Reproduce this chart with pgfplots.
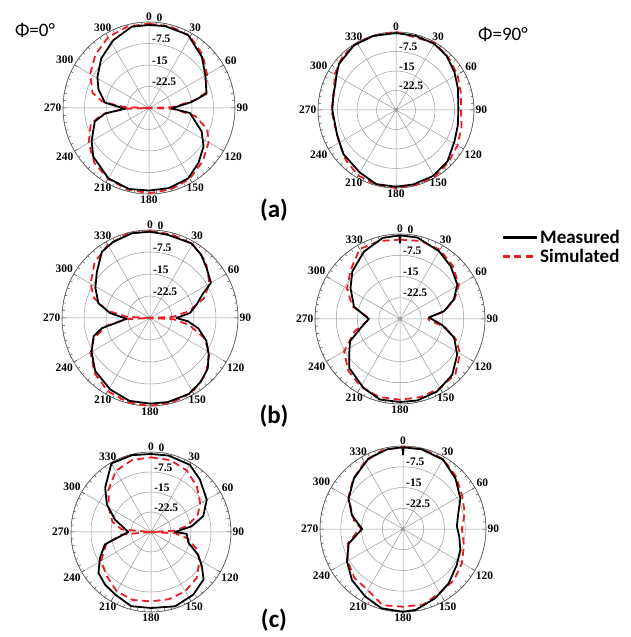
\documentclass[border=0pt]{standalone}
\usepackage{pgfplots}
\pgfplotsset{compat=1.18}
\usepackage{pgfplotstable}
\usepgfplotslibrary{polar}
\usepackage{fontspec}
\setmainfont{Liberation Serif}
\newfontfamily\calfont{Carlito}
\definecolor{simred}{RGB}{232,30,36}

% ---------- data: angle t (deg, clockwise from top), level d (dB) ----------
\pgfplotstableread{
t d
0 -1.05
11 -0.9
28 -1.05
46 -4.35
60 -7.3
76 -9.3
82 -15
91 -22.1
97 -15.6
114 -9.9
125 -6.75
138 -4.2
151 -1.9
166 -1.2
180 -1.2
194 -0.9
210 -1.65
229 -4.2
240 -6.9
256 -10.5
263 -14.6
268 -21.6
277 -14.5
290 -11.25
301 -9
316 -6
332 -3.3
348 -1
360 -1.05
}\aLm
\pgfplotstableread{
t d
0 -0.6
15 -0.6
30 -1.2
45 -3.6
60 -6.6
75 -9.6
80 -13.5
85 -19.5
88 -22
90 -30
92 -22
95 -19.5
100 -13.5
110 -8.4
120 -6
135 -3.6
150 -1.5
165 -0.6
180 -0.3
195 -0.6
210 -1.5
225 -3
240 -5.7
255 -9
262 -13.5
266 -19.5
268 -22
270 -30
272 -22
274 -19.5
278 -13.5
285 -9.6
300 -6.3
315 -3.6
330 -1.5
345 -0.6
360 -0.6
}\aLs
\pgfplotstableread{
t d
0 -0.4
15 -0.5
30 -0.6
43 -1.5
57 -3.2
71 -4.8
90 -6
104 -5.5
118 -4.5
135 -2
151 -0.9
167 -0.6
180 -0.5
195 -0.5
210 -2.2
230 -3.6
247 -5.4
270 -5.5
285 -5.1
292 -4.8
300 -3.5
309 -1.8
327 -0.3
343 -0.2
360 -0.4
}\aRm
\pgfplotstableread{
t d
0 0
30 -0.2
45 -1.5
60 -2.7
75 -4.2
90 -5
105 -3.9
120 -2.7
135 -1.5
150 -0.3
165 -0.2
180 0
195 -0.3
210 -0.9
225 -2.7
240 -4.8
255 -5.7
270 -5.1
285 -5.4
300 -2.7
315 -0.9
330 -0.2
345 -0.2
360 0
}\aRs
\pgfplotstableread{
t d
0 -0.6
12 -1
29 -0.9
39 -2.25
49 -4.35
60 -6
65 -10
74 -13.5
83 -16.3
90 -21
95 -17
102 -13.2
112 -9.3
122 -6.4
131 -3.9
141 -2.25
153 -0.9
168 -0.7
180 -0.8
194 -0.9
209 -2.1
226 -4
240 -7
252 -9.8
258 -13.2
268 -22
277 -16.3
286 -11.7
299 -8.7
311 -6
324 -2.1
334 -1.2
348 -0.45
360 -0.6
}\bLm
\pgfplotstableread{
t d
0 -0.3
15 -0.6
30 -0.9
45 -3
60 -6.6
70 -10.5
80 -16.5
87 -22
90 -30
93 -22
100 -16.5
110 -10.5
120 -6.6
135 -3
150 -0.9
165 -0.3
180 0
195 -0.3
210 -1.2
225 -3.3
240 -6.6
250 -9.6
260 -15
267 -22
270 -30
273 -22
280 -15
290 -9.6
300 -6.6
315 -3.3
330 -1.2
345 -0.3
360 -0.3
}\bLs
\pgfplotstableread{
t d
0 -3.3
0.4 -0.5
12 -0.6
30 -2.4
44 -4.2
59 -6.4
70 -9.75
80 -14.25
87 -19.8
98 -15
109 -9.8
122 -6.2
137 -3
153 -1.26
168 -0.6
180 -0.7
194 -0.7
208 -2.5
226 -5.1
235 -8.1
246 -10.7
257 -15.75
270 -19
285 -13.2
302 -9.4
315 -6.2
332 -3
348 -0.75
359.6 -0.5
360 -3.3
}\bRm
\pgfplotstableread{
t d
0 -2
15 -1.5
30 -1.8
45 -3.6
60 -6
70 -9.5
80 -14
87 -19.5
90 -20
93 -19.5
100 -14
110 -9
120 -5.5
135 -2.4
150 -1.8
165 -1.5
180 -1.5
195 -1.5
210 -2.4
225 -4.2
240 -7.2
255 -13.5
265 -18
270 -19
275 -18
285 -12.5
300 -8.4
315 -5.4
330 -1.5
345 -1.5
360 -2
}\bRs
\pgfplotstableread{
t d
0 -0.75
13 -0.6
30 -0.9
43 -3.1
60 -5.85
73 -9.5
82 -14.6
90 -21
93 -16.6
106 -15.4
116 -10.3
124 -7
132 -3.45
146 -1.65
162 -0.7
180 -1.5
195 -1.2
210 -3
221 -3.8
232 -5
243 -8.5
255 -12.1
270 -21.5
289 -15.7
302 -10.5
314 -6.1
330 -0.3
346 -0.3
360 -0.75
}\cLm
\pgfplotstableread{
t d
0 -2
15 -2.1
30 -3.3
45 -5.7
60 -8.7
70 -11.4
80 -16
87 -21
90 -30
93 -21
100 -16
110 -12
120 -9
135 -5.7
150 -4.35
165 -3.9
180 -4
195 -3.6
210 -4.3
225 -6.6
240 -8.4
255 -12.6
265 -19
270 -30
275 -19
285 -15
300 -11.7
315 -7.5
330 -3.6
345 -2.1
360 -2
}\cLs
\pgfplotstableread{
t d
0 -3.3
0.4 -0.5
13 -0.4
30 -1.05
46 -3.66
62 -6.5
76 -9.5
87 -10.5
98 -9.45
110 -7.95
124 -6.6
140 -4.35
155 -2.4
171 -0.4
180 -0.1
195 -0.3
209 -2
225 -3.9
240 -6.6
255 -9.7
270 -15.2
285 -10.9
299 -7.5
316 -4.5
334 -1.6
349 -0.6
359.6 -0.5
360 -3.3
}\cRm
\pgfplotstableread{
t d
0 -0.3
15 -0.3
30 -0.9
45 -3
60 -5.4
75 -6.9
90 -8.7
105 -7.2
120 -5.4
135 -3.9
150 -3.4
165 -1.7
180 -1.9
195 -1.5
210 -4.5
225 -5.1
240 -6.9
255 -9.3
265 -13
270 -15
280 -12
300 -7.2
315 -4.5
330 -2.1
345 -0.6
360 -0.3
}\cRs

\pgfplotsset{
  pp/.style={
    anchor=center, scale only axis, width=#1pt, height=#1pt,
    xmin=0, xmax=360, ymin=0, ymax=30,
    xtick={0,30,...,330},
    xticklabels={},
    minor x tick num=5,
    ytick={7.5,15,22.5,30}, yticklabels={},
    ytick style={draw=none},
    xmajorgrids, ymajorgrids,
    major grid style={gray!80, line width=0.5pt},
    axis line style={gray!70!black, line width=0.6pt},
    y axis line style={draw=none},
    xtick style={gray!60!black, line width=0.5pt},
    tick align=outside,
    major tick length=4pt, minor tick length=2.5pt,
    clip=false,
  },
  meas/.style={black, line width=1.8pt, line join=round},
  sim/.style={simred, line width=1.8pt, dash pattern=on 7pt off 4.5pt},
}
\tikzset{
  rl/.style={anchor=south west, xshift=2.5pt, inner sep=0.5pt, font=\fontsize{11.5}{12}\selectfont\bfseries},
  al/.style={inner sep=1.5pt, font=\fontsize{11.5}{12}\selectfont\bfseries},
}
\newcommand{\meas}[1]{\addplot[meas] table[x expr={90-\thisrow{t}}, y expr={\thisrow{d}+30}] {#1};}
\newcommand{\simu}[1]{\addplot[sim] table[x expr={90-\thisrow{t}}, y expr={\thisrow{d}+30}] {#1};}
\newcommand{\rlabels}{%
  \node[rl] at (axis cs:90,22.5) {-7.5};
  \node[rl] at (axis cs:90,15) {-15};
  \node[rl] at (axis cs:90,7.5) {-22.5};}
\newcommand{\alabs}[1]{%
  \node[al,anchor=180] at (axis cs:0,30) {90};
  \node[al,anchor=210] at (axis cs:30,30) {60};
  \node[al,anchor=240] at (axis cs:60,30) {30};
  \node[al,anchor=270] at (axis cs:90,30) {0};
  \node[al,anchor=300] at (axis cs:120,30) {#1};
  \node[al,anchor=330] at (axis cs:150,30) {300};
  \node[al,anchor=0] at (axis cs:180,30) {270};
  \node[al,anchor=30] at (axis cs:210,30) {240};
  \node[al,anchor=60] at (axis cs:240,30) {210};
  \node[al,anchor=90] at (axis cs:270,30) {180};
  \node[al,anchor=120] at (axis cs:300,30) {150};
  \node[al,anchor=150] at (axis cs:330,30) {120};}
\newcommand{\rzero}{\node[rl, xshift=4.5pt] at (axis cs:90,30) {0};}

\begin{document}
\begin{tikzpicture}[x=1pt,y=1pt]
\useasboundingbox (0,0) rectangle (630,637);

% (a) left
\begin{polaraxis}[pp=172, at={(149pt,529pt)}]
\simu{\aLs}
\meas{\aLm}
\rlabels \alabs{300} \rzero
\end{polaraxis}

% (a) right
\begin{polaraxis}[pp=156, at={(396pt,527pt)}]
\simu{\aRs}
\meas{\aRm}
\rlabels \alabs{330}
\end{polaraxis}

% (b) left
\begin{polaraxis}[pp=176, at={(150pt,319pt)}]
\simu{\bLs}
\meas{\bLm}
\rlabels \alabs{330} \rzero
\end{polaraxis}

% (b) right (with legend)
\begin{polaraxis}[pp=170, at={(400pt,318pt)},
  legend style={at={(axis description cs:1.095,1.035)}, anchor=north west,
    draw=none, fill=none, inner sep=0pt, row sep=0pt,
    font=\calfont\bfseries\fontsize{19}{22}\selectfont},
  legend cell align=left,
  legend image code/.code={\draw[#1, line width=2.8pt] (0pt,0pt) -- (34pt,0pt);},
  reverse legend]
\simu{\bRs}
\addlegendentry{Simulated}
\meas{\bRm}
\addlegendentry{Measured}
\rlabels \alabs{330} \rzero
\end{polaraxis}

% (c) left
\begin{polaraxis}[pp=160, at={(151pt,105pt)}]
\simu{\cLs}
\meas{\cLm}
\rlabels \alabs{330} \rzero
\end{polaraxis}

% (c) right
\begin{polaraxis}[pp=166, at={(403pt,108pt)}]
\simu{\cRs}
\meas{\cRm}
\rlabels \alabs{330}
\end{polaraxis}

\node[font=\calfont\fontsize{19}{20}\selectfont] at (35,607) {Φ=0°};
\node[font=\calfont\fontsize{19}{20}\selectfont] at (503,603) {Φ=90°};
\node[font=\calfont\bfseries\fontsize{25}{27}\selectfont] at (274,427) {(a)};
\node[font=\calfont\bfseries\fontsize{25}{27}\selectfont] at (274,221) {(b)};
\node[font=\calfont\bfseries\fontsize{25}{27}\selectfont] at (274,17) {(c)};
\end{tikzpicture}
\end{document}
